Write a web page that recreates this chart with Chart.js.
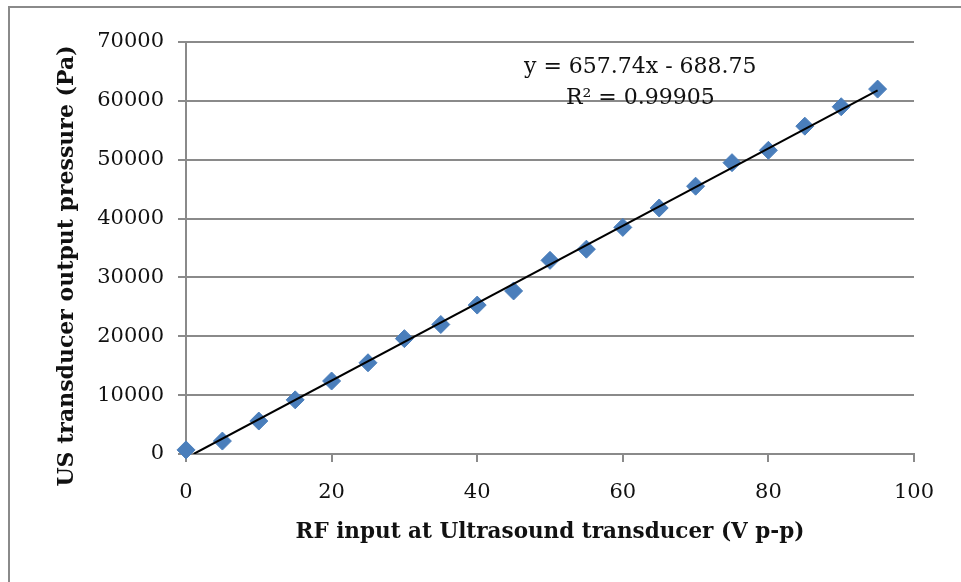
<!DOCTYPE html>
<html>
<head>
<meta charset="utf-8">
<script src="https://cdn.jsdelivr.net/npm/chart.js@4/dist/chart.umd.min.js"></script>
<style>
  html, body { margin: 0; padding: 0; background: #fff; overflow: hidden; width: 961px; height: 582px; }
  #frame { position: absolute; left: 8px; top: 6px; width: 1000px; height: 700px; border: 2px solid #8a8a8a; box-sizing: border-box; }
  #c { position: absolute; left: 0; top: 0; }
</style>
</head>
<body>
<div id="frame"></div>
<canvas id="c" width="961" height="582"></canvas>
<script>
// Data
const rfInput = [0, 5, 10, 15, 20, 25, 30, 35, 40, 45, 50, 55, 60, 65, 70, 75, 80, 85, 90, 95];
const pressure = [700, 2200, 5600, 9200, 12400, 15500, 19600, 22000, 25300, 27700, 32900, 34800, 38500, 41800, 45500, 49500, 51600, 55700, 59000, 62000];
const trendX = [1.05, 95];
const trendY = [0, 61797];
const xTicks = [0, 20, 40, 60, 80, 100];
const yTicks = [0, 10000, 20000, 30000, 40000, 50000, 60000, 70000];
const equationLines = ['y = 657.74x - 688.75', 'R\u00B2 = 0.99905'];
const xTitle = 'RF input at Ultrasound transducer (V p-p)';
const yTitle = 'US transducer output pressure (Pa)';

const points = rfInput.map((x, i) => ({ x: x, y: pressure[i] }));
const trend = trendX.map((x, i) => ({ x: x, y: trendY[i] }));

const GRID = '#8a8a8a';
const SERIF = '"DejaVu Serif", "Liberation Serif", serif';

const textPlugin = {
  id: 'texts',
  afterDatasetsDraw(chart) {
    const ctx = chart.ctx;
    const xs = chart.scales.x, ys = chart.scales.y;
    ctx.save();
    ctx.font = '22px ' + SERIF;
    ctx.fillStyle = '#111';
    ctx.textAlign = 'center';
    ctx.textBaseline = 'middle';
    ctx.fillText(equationLines[0], xs.getPixelForValue(62.4), ys.getPixelForValue(65750));
    ctx.fillText(equationLines[1], xs.getPixelForValue(62.4), ys.getPixelForValue(60490));
    ctx.restore();
  },
  afterDraw(chart) {
    const ctx = chart.ctx;
    const area = chart.chartArea;
    ctx.save();
    ctx.translate(67, (area.top + area.bottom) / 2 + 18);
    ctx.rotate(-Math.PI / 2);
    ctx.font = 'bold 22px ' + SERIF;
    ctx.fillStyle = '#111';
    ctx.textAlign = 'center';
    ctx.textBaseline = 'middle';
    ctx.fillText(yTitle, 0, 0);
    ctx.restore();
  }
};

new Chart(document.getElementById('c'), {
  type: 'scatter',
  data: {
    datasets: [
      {
        type: 'line',
        label: 'Trend',
        data: trend,
        borderColor: '#000',
        borderWidth: 2,
        pointRadius: 0,
        fill: false,
        order: 0
      },
      {
        label: 'Pressure',
        data: points,
        pointStyle: 'rectRot',
        pointRadius: 9,
        pointBackgroundColor: '#4a7ebb',
        pointBorderColor: '#4a7ebb',
        pointBorderWidth: 1,
        clip: false,
        order: 1
      }
    ]
  },
  options: {
    responsive: false,
    animation: false,
    layout: { padding: { top: 42, right: 47, bottom: 0, left: 0 } },
    plugins: { legend: { display: false }, tooltip: { enabled: false } },
    scales: {
      x: {
        type: 'linear',
        min: 0, max: 100,
        afterBuildTicks: (s) => { s.ticks = xTicks.map(v => ({ value: v })); },
        afterFit: (s) => { s.height = 128; },
        grid: { color: 'rgba(0,0,0,0)', tickColor: GRID, tickLength: 8, lineWidth: 2, drawOnChartArea: false },
        border: { display: true, color: GRID, width: 2 },
        ticks: { color: '#111', font: { family: SERIF, size: 21 }, padding: 18, callback: (v) => String(v) },
        title: { display: true, text: xTitle, color: '#111', font: { family: SERIF, size: 21.5, weight: 'bold' }, padding: { top: 0, bottom: 37 } }
      },
      y: {
        type: 'linear',
        min: 0, max: 70000,
        afterBuildTicks: (s) => { s.ticks = yTicks.map(v => ({ value: v })); },
        afterFit: (s) => { s.width = 186; },
        grid: { color: GRID, tickColor: GRID, tickLength: 8, lineWidth: 2 },
        border: { display: true, color: GRID, width: 2 },
        ticks: { color: '#111', font: { family: SERIF, size: 21 }, padding: 14, callback: (v) => String(v) },
        title: { display: false, text: yTitle }
      }
    }
  },
  plugins: [textPlugin]
});
</script>
</body>
</html>
